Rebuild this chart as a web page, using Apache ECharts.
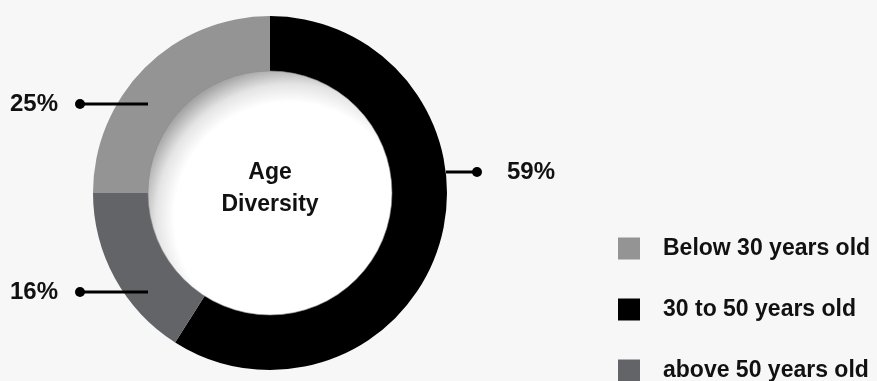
<!DOCTYPE html>
<html>
<head>
<meta charset="utf-8">
<script src="https://cdn.jsdelivr.net/npm/echarts@6/dist/echarts.min.js"></script>
<style>
html,body{margin:0;padding:0;background:#f7f7f7;}
#c{width:877px;height:381px;}
</style>
</head>
<body>
<div id="c"></div>
<script>
// Data (clockwise from top)
const categories = ['30 to 50 years old', 'above 50 years old', 'Below 30 years old'];
const values = [59, 16, 25];
const colors = ['#000000', '#636467', '#949494'];
const legendOrder = ['Below 30 years old', '30 to 50 years old', 'above 50 years old'];
const centerTitle = 'Age\nDiversity';

const FONT = 'Arial';
const CX = 270, CY = 193;

// label anchor layout per slice
const labelSpots = [
  {x: 507, y: 172, align: 'left', line: [446, 477, 172], dot: [477, 172]},
  {x: 58, y: 292, align: 'right', line: [148, 80, 292], dot: [80, 292]},
  {x: 58, y: 104, align: 'right', line: [148, 80, 104], dot: [80, 104]}
];

const chart = echarts.init(document.getElementById('c'));
chart.setOption({
  backgroundColor: '#f7f7f7',
  animation: false,
  legend: legendOrder.map((n, i) => ({
    data: [n],
    orient: 'vertical',
    left: 618,
    top: 237 + 61 * i,
    padding: 0,
    itemWidth: 22,
    itemHeight: 22,
    icon: 'rect',
    selectedMode: false,
    textStyle: {fontFamily: FONT, fontWeight: 'bold', fontSize: 23, color: '#111', padding: [0, 0, 0, 18]}
  })),
  series: [{
    type: 'pie',
    center: [CX, CY],
    radius: [120, 177],
    startAngle: 90,
    clockwise: true,
    silent: true,
    data: categories.map((c, i) => ({name: c, value: values[i], itemStyle: {color: colors[i]}})),
    label: {
      show: true,
      formatter: p => p.value + '%',
      fontFamily: FONT, fontWeight: 'bold', fontSize: 24, color: '#111'
    },
    labelLine: {show: false},
    labelLayout: function (params) {
      const s = labelSpots[params.dataIndex];
      return {x: s.x, y: s.y, align: s.align, verticalAlign: 'middle'};
    }
  }],
  graphic: [
    ...labelSpots.map(s => ({type: 'line', z: 10, shape: {x1: s.line[0], y1: s.line[2], x2: s.line[1], y2: s.line[2]}, style: {stroke: '#000', lineWidth: 3}})),
    ...labelSpots.map(s => ({type: 'circle', z: 10, shape: {cx: s.dot[0], cy: s.dot[1], r: 5}, style: {fill: '#000'}})),
    {
      type: 'circle', z: 20,
      shape: {cx: CX, cy: CY, r: 122},
      style: {
        fill: {
          type: 'radial', x: 0.58, y: 0.6, r: 0.62,
          colorStops: [
            {offset: 0, color: '#ffffff'},
            {offset: 0.76, color: '#ffffff'},
            {offset: 0.88, color: '#e4e4e4'},
            {offset: 1, color: '#a4a4a4'}
          ]
        },
        stroke: '#8a8a8a', lineWidth: 0.6
      }
    },
    {
      type: 'text', z: 30,
      x: CX, y: 189,
      style: {
        text: centerTitle, fontFamily: FONT, fontWeight: 'bold', fontSize: 23, lineHeight: 32,
        fill: '#111', align: 'center', verticalAlign: 'middle'
      }
    }
  ]
});
</script>
</body>
</html>
